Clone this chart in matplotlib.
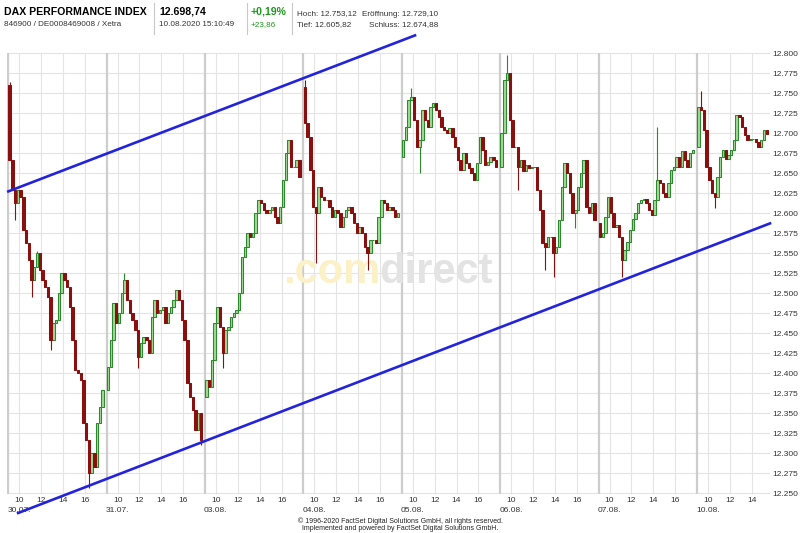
import numpy as np
import matplotlib
matplotlib.use("Agg")
import matplotlib.pyplot as plt
from matplotlib.lines import Line2D

plt.rcParams['font.family'] = ['Liberation Sans', 'DejaVu Sans']

# trading days and 15-minute closes (9:00 - 17:30 Xetra)
dates = ["30.07.", "31.07.", "03.08.", "04.08.", "05.08.", "06.08.", "07.08.", "10.08."]
day_open = [12760, 12379, 12370, 12758, 12670, 12658, 12587, 12683]

close_3007 = [12666, 12629, 12612, 12629, 12620, 12579, 12562, 12541, 12516, 12533,
              12550, 12529, 12516, 12508, 12495, 12441, 12462, 12466, 12500, 12525,
              12516, 12508, 12483, 12441, 12404, 12400, 12391, 12337, 12316, 12275,
              12300, 12283, 12337, 12358, 12379]
close_3107 = [12408, 12441, 12487, 12462, 12475, 12500, 12516, 12491, 12475, 12466,
              12454, 12420, 12437, 12445, 12441, 12425, 12470, 12491, 12475, 12479,
              12483, 12462, 12475, 12483, 12491, 12504, 12491, 12466, 12441, 12387,
              12370, 12354, 12329, 12350, 12316]
close_0308 = [12391, 12383, 12416, 12462, 12483, 12458, 12425, 12454, 12458, 12470,
              12475, 12479, 12500, 12545, 12558, 12575, 12570, 12575, 12600, 12616,
              12612, 12604, 12600, 12604, 12608, 12595, 12587, 12608, 12641, 12675,
              12691, 12658, 12658, 12666, 12645]
close_0408 = [12712, 12695, 12654, 12608, 12600, 12633, 12620, 12616, 12616, 12608,
              12595, 12604, 12600, 12583, 12595, 12604, 12608, 12600, 12587, 12575,
              12583, 12575, 12558, 12550, 12566, 12566, 12562, 12595, 12616, 12612,
              12604, 12608, 12604, 12595, 12600]
close_0508 = [12691, 12708, 12741, 12745, 12716, 12683, 12691, 12729, 12716, 12708,
              12733, 12737, 12729, 12720, 12708, 12704, 12700, 12706, 12695, 12683,
              12666, 12654, 12675, 12662, 12656, 12650, 12641, 12662, 12695, 12679,
              12660, 12664, 12670, 12666, 12658]
close_0608 = [12700, 12766, 12775, 12716, 12683, 12683, 12658, 12666, 12652, 12660,
              12656, 12658, 12658, 12629, 12604, 12562, 12558, 12570, 12570, 12550,
              12558, 12591, 12633, 12662, 12650, 12625, 12600, 12604, 12633, 12650,
              12666, 12608, 12600, 12612, 12591]
close_0708 = [12570, 12575, 12595, 12620, 12600, 12583, 12585, 12570, 12541, 12554,
              12564, 12579, 12593, 12600, 12612, 12616, 12618, 12612, 12604, 12598,
              12616, 12641, 12637, 12625, 12620, 12637, 12654, 12658, 12670, 12658,
              12677, 12666, 12658, 12675, 12679]
close_1008 = [12733, 12729, 12704, 12658, 12641, 12625, 12620, 12645, 12670, 12679,
              12668, 12672, 12679, 12691, 12722, 12720, 12708, 12698, 12691, 12693,
              12693, 12689, 12683, 12691, 12704, 12698.74]
closes = [close_3007, close_3107, close_0308, close_0408,
          close_0508, close_0608, close_0708, close_1008]

# visible wick extremes: (day, slot, price)
wick_highs = [(0, 0, 12764), (0, 10, 12552), (1, 6, 12525), (3, 0, 12766),
              (4, 3, 12756), (5, 2, 12797), (6, 21, 12708), (7, 1, 12752)]
wick_lows = [(0, 2, 12591), (0, 8, 12495), (0, 15, 12429), (0, 29, 12256),
             (1, 11, 12406), (1, 34, 12310), (2, 6, 12406), (3, 4, 12537),
             (3, 23, 12529), (4, 6, 12650), (5, 6, 12629), (5, 16, 12529),
             (5, 19, 12520), (5, 27, 12581), (6, 8, 12520), (7, 6, 12606)]

# trend channel (slot, price)
upper_channel = ([0, 148.8], [12627, 12822])
lower_channel = ([3.6, 278.7], [12225, 12587])

hour_ticks = [10, 12, 14, 16]
y_ticks = np.arange(12250, 12801, 25)

SLOTS = 36  # 15-minute slots per day on the axis
XMAX = 278.7

# build candles
xs, opens, cls, keys = [], [], [], {}
for d, day in enumerate(closes):
    prev = day_open[d]
    for s, c in enumerate(day):
        keys[(d, s)] = len(xs)
        xs.append(d * SLOTS + s + 0.5)
        opens.append(prev)
        cls.append(c)
        prev = c
xs = np.array(xs)
opens = np.array(opens, dtype=float)
cls = np.array(cls, dtype=float)
highs = np.maximum(opens, cls)
lows = np.minimum(opens, cls)
for d, s, p in wick_highs:
    highs[keys[(d, s)]] = max(highs[keys[(d, s)]], p)
for d, s, p in wick_lows:
    lows[keys[(d, s)]] = min(lows[keys[(d, s)]], p)

fig = plt.figure(figsize=(8, 5.33), dpi=100)
ax = fig.add_axes([7 / 800, 38 / 533, 763 / 800, 460 / 533])
ax.set_xlim(-0.48, XMAX)
ax.set_ylim(12247.5, 12822.5)
for sp in ax.spines.values():
    sp.set_visible(False)

# grid
for p in y_ticks:
    ax.axhline(p, color='#e4e4e4', lw=0.8, zorder=0)
tick_pos, tick_lab = [], []
for d in range(len(dates)):
    ax.vlines(d * SLOTS, 12249, 12800, color='#cdcdcd', lw=1.6, zorder=0)
    for h in hour_ticks:
        x = d * SLOTS + (h - 9) * 4
        if x < XMAX - 2:
            ax.vlines(x, 12249, 12800, color='#e4e4e4', lw=0.8, zorder=0)
            tick_pos.append(x)
            tick_lab.append(str(h))
    ax.annotate(dates[d], xy=(d * SLOTS - 0.4, 0), xycoords=('data', 'axes fraction'),
                xytext=(0, -8.6), textcoords='offset points', ha='left', va='top',
                fontsize=6, color='#333333', annotation_clip=False)

# watermark
ax.text(283 / 800, 1 - 272 / 533, '.com', transform=fig.transFigure, fontsize=30,
        fontweight='bold', color='#fcf0c6', ha='left', va='center', zorder=1)
ax.text(379 / 800, 1 - 272 / 533, 'direct', transform=fig.transFigure, fontsize=30,
        fontweight='bold', color='#e3e3e3', ha='left', va='center', zorder=1)

# candles
up = cls >= opens
red = '#8a1010'
green_edge = '#2c8a2c'
green_fill = '#9fd995'
ax.vlines(xs, lows, highs, colors=np.where(up, green_edge, red), lw=0.8, zorder=3)
ax.bar(xs[up], (cls - opens)[up], bottom=opens[up], width=0.88,
       color=green_fill, edgecolor=green_edge, lw=0.75, zorder=4)
ax.bar(xs[~up], (cls - opens)[~up], bottom=opens[~up], width=0.88,
       color=red, edgecolor=red, lw=0.75, zorder=4)

# trend channel
ax.plot(*upper_channel, color='#2323dc', lw=1.9, clip_on=False, zorder=6)
ax.plot(*lower_channel, color='#2323dc', lw=1.9, clip_on=False, zorder=6)

# axes ticks
ax.set_xticks(tick_pos, tick_lab)
ax.yaxis.tick_right()
ax.set_yticks(y_ticks, [f"{v:,.0f}".replace(',', '.') for v in y_ticks])
ax.tick_params(axis='x', length=0, pad=1.2, labelsize=6, labelcolor='#333333')
ax.tick_params(axis='y', length=0, pad=1.5, labelsize=6, labelcolor='#333333')


# header
def fpos(x, y):
    return x / 800, 1 - y / 533


fig.text(*fpos(4, 12), 'DAX PERFORMANCE INDEX', fontsize=7.6, fontweight='bold',
         va='center', ha='left')
fig.text(*fpos(4, 24.5), '846900 / DE0008469008 / Xetra', fontsize=5.9,
         color='#333333', va='center', ha='left')
fig.text(*fpos(159, 12), '12.698,74', fontsize=7.6, fontweight='bold',
         va='center', ha='left')
fig.text(*fpos(159, 24.5), '10.08.2020 15:10:49', fontsize=5.9,
         color='#333333', va='center', ha='left')
fig.text(*fpos(251, 12), '+0,19%', fontsize=7.6, fontweight='bold',
         color='#1d9a1d', va='center', ha='left')
fig.text(*fpos(251, 24.5), '+23,86', fontsize=5.9, color='#1d9a1d',
         va='center', ha='left')
fig.text(*fpos(297, 14), 'Hoch: 12.753,12', fontsize=5.9, color='#333333',
         va='center', ha='left')
fig.text(*fpos(362, 14), 'Eröffnung: 12.729,10', fontsize=5.9, color='#333333',
         va='center', ha='left')
fig.text(*fpos(297, 24.5), 'Tief: 12.605,82', fontsize=5.9, color='#333333',
         va='center', ha='left')
fig.text(*fpos(369, 24.5), 'Schluss: 12.674,88', fontsize=5.9, color='#333333',
         va='center', ha='left')
for xsep in [154, 247, 292]:
    fig.add_artist(Line2D([xsep / 800] * 2, [1 - 3 / 533, 1 - 34 / 533],
                          color='#c8c8c8', lw=0.8))

# footer
fig.text(0.5, 1 - 521.5 / 533, '© 1996-2020 FactSet Digital Solutions GmbH, all rights reserved.',
         fontsize=5, color='#222222', ha='center', va='center')
fig.text(0.5, 1 - 528.5 / 533, 'Implemented and powered by FactSet Digital Solutions GmbH.',
         fontsize=5, color='#222222', ha='center', va='center')

fig.savefig('out.png', dpi=100)
